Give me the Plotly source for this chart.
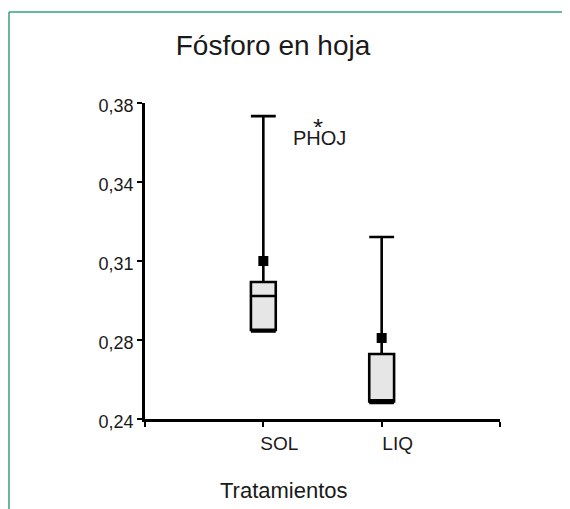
import plotly.graph_objects as go

# ---- data ----
categories = ["SOL", "LIQ"]
cat_pos = [1, 2]
q1 = [0.2795, 0.2478]
median = [0.2945, 0.2478]
q3 = [0.3007, 0.2688]
lower = [0.2788, 0.2471]
upper = [0.3742, 0.3206]
means = [0.3100, 0.2759]

y_tickvals = [0.24, 0.275, 0.31, 0.345, 0.38]
y_ticktext = ["0,24", "0,28", "0,31", "0,34", "0,38"]

FONT = "Liberation Sans, Arial, sans-serif"
GREEN = "#35a07c"
OFF = 8  # page body margin offset

# plot area on the page: x 145..500, y 103..419
def px(x):
    return (x - 145) / 355

def py(y):
    return (419 - y) / 316

fig = go.Figure()

for i, c in enumerate(categories):
    fig.add_trace(go.Box(
        x=[cat_pos[i]], q1=[q1[i]], median=[median[i]], q3=[q3[i]],
        lowerfence=[lower[i]], upperfence=[upper[i]],
        width=0.21, whiskerwidth=1,
        fillcolor="#e6e6e6", line=dict(color="black", width=2.6),
        boxpoints=False, showlegend=False, name=c, hoverinfo="skip",
    ))

fig.add_trace(go.Scatter(
    x=cat_pos, y=means, mode="markers",
    marker=dict(symbol="square", size=10, color="black"),
    showlegend=False, hoverinfo="skip",
))

fig.update_layout(
    width=570, height=509,
    margin=dict(l=145 - OFF, r=570 - (500 - OFF), t=103 - OFF, b=509 - (419 - OFF)),
    paper_bgcolor="white", plot_bgcolor="white",
    font=dict(family=FONT, color="#1a1a1a"),
    title=dict(text="Fósforo en hoja", font=dict(size=28, family=FONT, color="#1a1a1a"),
               x=(273 - OFF) / 570, xref="container", xanchor="center",
               y=1 - (45 - OFF) / 509, yref="container", yanchor="middle"),
    xaxis=dict(range=[0, 3], tickvals=[0, 1, 2, 3], ticktext=["", "SOL", "LIQ", ""],
               showgrid=False, zeroline=False, showline=True, linecolor="black", linewidth=2.6,
               ticks="outside", ticklen=5, tickwidth=2.2, tickcolor="black",
               tickfont=dict(size=19, family=FONT, color="#1a1a1a"), ticklabelshift=16),
    yaxis=dict(range=[0.24, 0.38], tickvals=y_tickvals, ticktext=y_ticktext,
               showgrid=False, zeroline=False, showline=True, linecolor="black", linewidth=2.6,
               ticks="outside", ticklen=5, tickwidth=2.2, tickcolor="black",
               tickfont=dict(size=18, family=FONT, color="#1a1a1a"), ticklabelshift=3),
    annotations=[
        dict(text="Tratamientos", xref="paper", yref="paper",
             x=px(284), y=py(490), showarrow=False,
             font=dict(size=22, family=FONT, color="#1a1a1a"), xanchor="center", yanchor="middle"),
        dict(text="PHOJ", xref="paper", yref="paper",
             x=px(291), y=py(138), showarrow=False,
             font=dict(size=20, family=FONT, color="#1a1a1a"), xanchor="left", yanchor="middle"),
        dict(text="*", xref="paper", yref="paper",
             x=px(318), y=py(120), showarrow=False, height=14, valign="top",
             font=dict(size=26, family=FONT, color="#1a1a1a"), xanchor="center", yanchor="middle"),
    ],
    shapes=[
        dict(type="line", xref="paper", yref="paper",
             x0=px(9), x1=px(580), y0=py(12), y1=py(12),
             line=dict(color=GREEN, width=1.5)),
        dict(type="line", xref="paper", yref="paper",
             x0=px(9), x1=px(9), y0=py(12), y1=py(520),
             line=dict(color=GREEN, width=1.5)),
    ],
)

fig.write_html("out.html")
